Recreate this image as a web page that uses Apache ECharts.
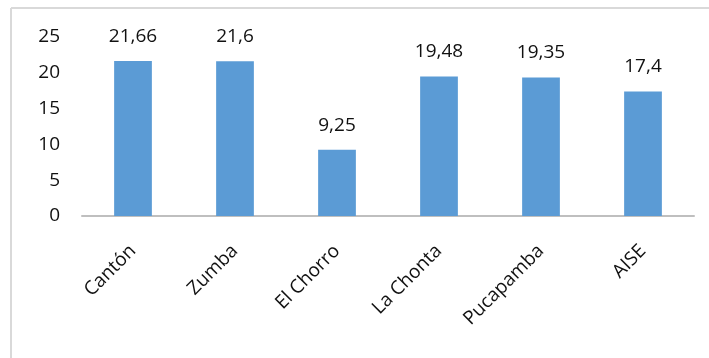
<!DOCTYPE html>
<html>
<head>
<meta charset="utf-8">
<script src="https://cdn.jsdelivr.net/npm/echarts@6/dist/echarts.min.js"></script>
<style>html,body{margin:0;padding:0;background:#fff}#c{width:709px;height:358px}</style>
</head>
<body>
<div id="c"></div>
<script>
const categories = ['Cantón', 'Zumba', 'El Chorro', 'La Chonta', 'Pucapamba', 'AISE'];
const values = [21.66, 21.6, 9.25, 19.48, 19.35, 17.4];
const yTicks = [0, 5, 10, 15, 20, 25];

const font = '"Open Sans", "Noto Sans", sans-serif';
const chart = echarts.init(document.getElementById('c'), null, {renderer: 'canvas'});
chart.setOption({
  animation: false,
  backgroundColor: '#fff',
  grid: {left: 82, right: 15, top: 37, bottom: 142, containLabel: false},
  graphic: [
    {type: 'line', shape: {x1: 11, y1: 8, x2: 709, y2: 8}, style: {stroke: '#D9D9D9', lineWidth: 2}},
    {type: 'line', shape: {x1: 11, y1: 8, x2: 11, y2: 358}, style: {stroke: '#D9D9D9', lineWidth: 2}}
  ],
  xAxis: {
    type: 'category',
    data: categories,
    axisLine: {show: true, lineStyle: {color: '#BFBFBF', width: 2}},
    axisTick: {show: false},
    axisLabel: {rotate: 45, margin: 32, color: '#111', fontSize: 19, fontFamily: font, interval: 0}
  },
  yAxis: {
    type: 'value',
    min: yTicks[0],
    max: yTicks[yTicks.length - 1],
    interval: 5,
    axisLine: {show: false},
    axisTick: {show: false},
    splitLine: {show: false},
    axisLabel: {margin: 22, color: '#111', fontSize: 19, fontFamily: font}
  },
  series: [{
    type: 'bar',
    data: values,
    barWidth: '37%',
    itemStyle: {color: '#5B9BD5'},
    label: {
      show: true,
      position: 'top',
      distance: 15,
      color: '#111',
      fontSize: 19,
      fontFamily: font,
      formatter: p => String(p.value).replace('.', ',')
    }
  }]
});
</script>
</body>
</html>
